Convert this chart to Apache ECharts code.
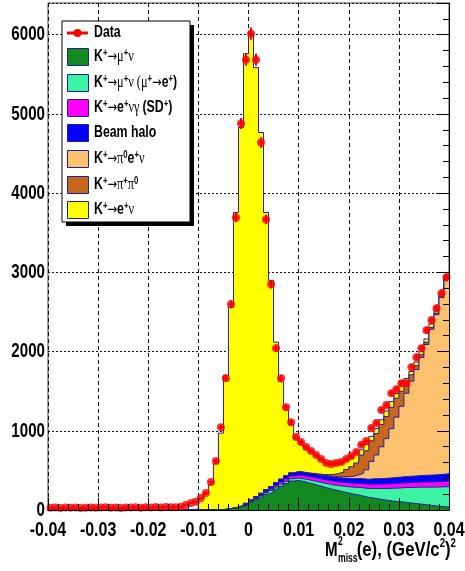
<!DOCTYPE html>
<html>
<head>
<meta charset="utf-8">
<script src="https://cdn.jsdelivr.net/npm/echarts@6/dist/echarts.min.js"></script>
<style>
html,body{margin:0;padding:0;background:#fff;}
#c{width:465px;height:571px;}
</style>
</head>
<body>
<div id="c"></div>
<script>
// M^2_miss(e) histogram: 80 bins of 0.001 (GeV/c^2)^2 from -0.04 to 0.04
const binLow = -0.04;
const binWidth = 0.001;

const xTickLabels = ['-0.04', '-0.03', '-0.02', '-0.01', '0', '0.01', '0.02', '0.03', '0.04'];
const yTickLabels = ['0', '1000', '2000', '3000', '4000', '5000', '6000'];

// observed events per bin
const dataCounts = [
  27, 31, 24, 30, 28, 33, 26, 29, 32, 27,
  30, 35, 28, 31, 26, 33, 30, 36, 29, 34,
  31, 37, 33, 39, 36, 36, 40, 63, 88, 104,
  151, 214, 353, 618, 1046, 1664, 2597, 3693, 4878, 5685,
  6013, 5685, 4639, 3668, 2849, 2042, 1664, 1298, 1109, 920,
  857, 794, 744, 693, 643, 592, 580, 592, 605, 643,
  681, 731, 825, 870, 1034, 1097, 1261, 1324, 1475, 1525,
  1601, 1601, 1803, 1929, 2042, 2269, 2395, 2546, 2735, 2937
];

// simulated contributions per bin (stacked bottom to top in this order)
const kMuNu = [
  0, 0, 0, 0, 0, 0, 0, 0, 0, 0,
  0, 0, 0, 0, 0, 0, 0, 0, 0, 0,
  0, 0, 0, 0, 0, 0, 0, 0, 0, 0,
  0, 0, 1, 2, 5, 10, 20, 30, 45, 65,
  100, 130, 165, 200, 225, 265, 300, 335, 365, 372,
  360, 345, 328, 310, 292, 275, 258, 243, 228, 214,
  200, 190, 175, 160, 150, 140, 130, 120, 112, 105,
  100, 92, 85, 78, 70, 62, 55, 48, 42, 38
];
const kMuNuMuE = [
  0, 0, 0, 0, 0, 0, 0, 0, 0, 0,
  0, 0, 0, 0, 0, 0, 0, 0, 0, 0,
  0, 0, 0, 0, 0, 0, 0, 0, 0, 0,
  0, 0, 0, 0, 0, 0, 3, 5, 7, 10,
  12, 15, 18, 20, 22, 25, 27, 28, 30, 32,
  35, 38, 42, 46, 50, 55, 60, 66, 72, 80,
  88, 96, 104, 112, 122, 132, 142, 152, 162, 172,
  182, 192, 200, 210, 218, 226, 234, 242, 250, 258
];
const kENuGammaSD = [
  0, 0, 0, 0, 0, 0, 0, 0, 0, 0,
  0, 0, 0, 0, 0, 0, 0, 0, 0, 0,
  0, 0, 0, 0, 0, 0, 0, 0, 0, 0,
  0, 0, 0, 0, 0, 0, 0, 0, 2, 4,
  6, 9, 12, 16, 20, 24, 28, 32, 35, 38,
  40, 41, 43, 44, 44, 46, 47, 47, 49, 50,
  50, 52, 53, 53, 55, 56, 56, 58, 59, 60,
  60, 62, 63, 63, 65, 66, 66, 68, 69, 70
];
const beamHalo = [
  0, 0, 0, 0, 0, 0, 0, 0, 0, 0,
  0, 0, 0, 0, 0, 0, 0, 0, 0, 0,
  0, 0, 0, 0, 0, 0, 0, 0, 0, 0,
  0, 0, 0, 0, 0, 0, 0, 0, 3, 5,
  8, 12, 15, 20, 25, 30, 33, 36, 38, 40,
  42, 42, 44, 45, 47, 48, 49, 52, 53, 56,
  57, 60, 62, 63, 66, 67, 70, 71, 74, 75,
  77, 78, 79, 82, 83, 85, 87, 88, 90, 91
];
const kPi0ENu = [
  0, 0, 0, 0, 0, 0, 0, 0, 0, 0,
  0, 0, 0, 0, 0, 0, 0, 0, 0, 0,
  0, 0, 0, 0, 0, 0, 0, 0, 0, 0,
  0, 0, 0, 0, 0, 0, 0, 0, 0, 0,
  0, 0, 0, 0, 0, 0, 0, 0, 0, 0,
  0, 0, 2, 4, 6, 8, 10, 13, 17, 22,
  30, 45, 70, 120, 220, 300, 400, 500, 620, 760,
  890, 1050, 1200, 1340, 1490, 1650, 1840, 2020, 2230, 2460
];
const kPiPi0 = [
  0, 0, 0, 0, 0, 0, 0, 0, 0, 0,
  0, 0, 0, 0, 0, 0, 0, 0, 0, 0,
  0, 0, 0, 0, 0, 0, 0, 0, 0, 0,
  0, 0, 0, 0, 0, 0, 0, 0, 0, 0,
  0, 0, 0, 0, 0, 0, 0, 0, 0, 0,
  0, 0, 3, 6, 10, 15, 25, 40, 60, 90,
  120, 150, 230, 240, 260, 270, 280, 280, 270, 240,
  190, 130, 80, 50, 35, 28, 22, 18, 15, 12
];
const kENu = [
  0, 0, 0, 0, 0, 0, 0, 0, 0, 0,
  0, 0, 0, 0, 0, 0, 0, 0, 0, 0,
  0, 0, 0, 0, 0, 0, 0, 0, 0, 15,
  150, 205, 320, 590, 965, 1690, 2536, 3721, 4771, 5676,
  5884, 5418, 4555, 3500, 2607, 1774, 1232, 839, 612, 418,
  353, 307, 263, 225, 181, 138, 120, 113, 115, 113,
  113, 117, 66, 80, 57, 64, 61, 68, 73, 58,
  61, 56, 42, 46, 38, 43, 46, 36, 34, 30
];

const outlineColor = '#20209a';
const dataColor = '#ff0000';
const layers = [
  { label: '{n|K}{s|+}{a|→}{g|μ}{s|+}{g|ν}', values: kMuNu, color: '#12881e' },
  { label: '{n|K}{s|+}{a|→}{g|μ}{s|+}{g|ν (μ}{s|+}{a|→}{n|e}{s|+}{n|)}', values: kMuNuMuE, color: '#3cf3a4' },
  { label: '{n|K}{s|+}{a|→}{n|e}{s|+}{g|νγ }{n|(SD}{s|+}{n|)}', values: kENuGammaSD, color: '#ff00ff' },
  { label: '{n|Beam halo}', values: beamHalo, color: '#0000ff' },
  { label: '{n|K}{s|+}{a|→}{g|π}{s|0}{n|e}{s|+}{g|ν}', values: kPi0ENu, color: '#fcc16f' },
  { label: '{n|K}{s|+}{a|→}{g|π}{s|+}{g|π}{s|0}', values: kPiPi0, color: '#c8661b' },
  { label: '{n|K}{s|+}{a|→}{n|e}{s|+}{g|ν}', values: kENu, color: '#ffff00' }
];

const nBins = dataCounts.length;
const edges = [];
for (let i = 0; i <= nBins; i++) edges.push(+(binLow + i * binWidth).toFixed(4));
const centers = dataCounts.map((_, i) => +(binLow + (i + 0.5) * binWidth).toFixed(5));

// running sums: each stacked histogram is drawn as the cumulative total up to that layer
let running = dataCounts.map(() => 0);
const cumulative = layers.map(l => {
  running = running.map((v, i) => v + l.values[i]);
  return running.slice();
});

function stepPoints(vals) {
  const pts = vals.map((v, i) => [edges[i], v]);
  pts.push([edges[nBins], vals[nBins - 1]]);
  return pts;
}

const histSeries = [];
for (let k = layers.length - 1; k >= 0; k--) {
  histSeries.push({
    type: 'line',
    xAxisIndex: 0, yAxisIndex: 0,
    data: stepPoints(cumulative[k]),
    step: 'end',
    symbol: 'none', showSymbol: false,
    lineStyle: { color: outlineColor, width: 1 },
    areaStyle: { color: layers[k].color, opacity: 1 },
    silent: true,
    z: 2 + (layers.length - 1 - k)
  });
}

const FONT = '"Liberation Sans", Arial, sans-serif';
const GREEK = '"Liberation Serif", "DejaVu Serif", serif';
const ARROW = '"DejaVu Sans", sans-serif';

const option = {
  animation: false,
  backgroundColor: '#ffffff',
  grid: { left: 48, right: 16, top: 3, bottom: 61, show: true, borderColor: '#444', borderWidth: 1,
          backgroundColor: 'transparent', outerBoundsMode: 'none', containLabel: false },
  xAxis: [
    { type: 'value', min: -0.04, max: 0.04, interval: 0.01, position: 'bottom',
      axisLine: { show: false, onZero: false }, axisTick: { show: false }, axisLabel: { show: false },
      splitLine: { show: true, lineStyle: { color: '#111', width: 1, type: [4, 3] } } },
    { type: 'value', min: -0.04, max: 0.04, interval: 0.01, position: 'bottom', z: 20,
      axisLine: { show: true, onZero: false, lineStyle: { color: '#000', width: 1 } },
      axisTick: { show: true, inside: true, length: 12, lineStyle: { color: '#000', width: 1 } },
      minorTick: { show: true, splitNumber: 5, length: 6, lineStyle: { color: '#000', width: 1 } },
      axisLabel: { show: false }, splitLine: { show: false } }
  ],
  yAxis: [
    { type: 'value', min: 0, max: 6400, interval: 1000,
      axisLine: { show: false, onZero: false }, axisTick: { show: false }, axisLabel: { show: false },
      splitLine: { show: true, lineStyle: { color: '#111', width: 1, type: [2, 2] } } },
    { type: 'value', min: 0, max: 6400, interval: 1000, z: 20,
      axisLine: { show: true, onZero: false, lineStyle: { color: '#000', width: 1 } },
      axisTick: { show: true, inside: true, length: 12, lineStyle: { color: '#000', width: 1 } },
      minorTick: { show: true, splitNumber: 5, length: 6, lineStyle: { color: '#000', width: 1 } },
      axisLabel: { show: false }, splitLine: { show: false } }
  ],
  series: histSeries.concat([
    {
      type: 'custom', xAxisIndex: 0, yAxisIndex: 0, silent: true, z: 12,
      data: centers.map((c, i) => [c, dataCounts[i]]),
      renderItem: function (params, api) {
        const x = api.value(0), y = api.value(1), e = Math.sqrt(y);
        const a = api.coord([x - binWidth / 2, y]);
        const b = api.coord([x + binWidth / 2, y]);
        const t = api.coord([x, y + e]);
        const d = api.coord([x, Math.max(0, y - e)]);
        return { type: 'group', children: [
          { type: 'line', shape: { x1: a[0], y1: a[1], x2: b[0], y2: b[1] }, style: { stroke: dataColor, lineWidth: 2 } },
          { type: 'line', shape: { x1: t[0], y1: t[1], x2: d[0], y2: d[1] }, style: { stroke: dataColor, lineWidth: 2 } }
        ] };
      }
    },
    {
      type: 'scatter', xAxisIndex: 0, yAxisIndex: 0, silent: true, z: 13,
      data: centers.map((c, i) => [c, dataCounts[i]]),
      symbol: 'circle', symbolSize: 8,
      itemStyle: { color: dataColor }
    }
  ])
};

const chart = echarts.init(document.getElementById('c'), null, { renderer: 'canvas', width: 465, height: 571 });
chart.setOption(option);

// tick labels, legend and axis title
const gfx = [];
const bottomY = chart.convertToPixel({ yAxisIndex: 0 }, 0);
const leftX = chart.convertToPixel({ xAxisIndex: 0 }, -0.04);

yTickLabels.forEach(t => {
  const py = chart.convertToPixel({ yAxisIndex: 0 }, parseFloat(t));
  gfx.push({ type: 'text', x: leftX - 3, y: py, scaleX: 0.72, z: 30,
    style: { text: t, font: 'bold 21px ' + FONT, fill: '#000', align: 'right', textAlign: 'right',
             verticalAlign: 'middle', textVerticalAlign: 'middle' } });
});
xTickLabels.forEach(t => {
  const px = chart.convertToPixel({ xAxisIndex: 0 }, parseFloat(t));
  gfx.push({ type: 'text', x: px, y: bottomY + 20, scaleX: 0.8, z: 30,
    style: { text: t, font: 'bold 20px ' + FONT, fill: '#000', align: 'center', textAlign: 'center',
             verticalAlign: 'middle', textVerticalAlign: 'middle' } });
});

// axis title M^2_miss(e), (GeV/c^2)^2
gfx.push({ type: 'group', x: 325, y: 550, scaleX: 0.72, z: 30, children: [
  { type: 'text', x: 0, y: 0, style: { text: 'M', font: 'bold 21px ' + FONT, fill: '#000', verticalAlign: 'middle', textVerticalAlign: 'middle' } },
  { type: 'text', x: 18, y: -8, style: { text: '2', font: 'bold 12px ' + FONT, fill: '#000', verticalAlign: 'middle', textVerticalAlign: 'middle' } },
  { type: 'text', x: 18, y: 9, style: { text: 'miss', font: 'bold 12px ' + FONT, fill: '#000', verticalAlign: 'middle', textVerticalAlign: 'middle' } },
  { type: 'text', x: 44, y: 0, scaleX: 1.11, style: { text: '(e), (GeV/c{s|2}){s|2}', font: 'bold 21px ' + FONT, fill: '#000',
      verticalAlign: 'middle', textVerticalAlign: 'middle',
      rich: { s: { font: 'bold 12px ' + FONT, fill: '#000', verticalAlign: 'top', lineHeight: 24 } } } }
] });

// legend box with shadow
const legendRich = {
  n: { font: 'bold 16px ' + FONT, fill: '#000', lineHeight: 18 },
  g: { font: '16px ' + GREEK, fill: '#000', lineHeight: 18 },
  a: { font: '15px ' + ARROW, fill: '#000', lineHeight: 18 },
  s: { font: 'bold 10px ' + FONT, fill: '#000', lineHeight: 18, verticalAlign: 'top' }
};
gfx.push({ type: 'rect', shape: { x: 66, y: 25, width: 128, height: 201 }, style: { fill: '#000' }, z: 25 });
gfx.push({ type: 'rect', shape: { x: 62, y: 21, width: 128, height: 201 }, style: { fill: '#fff', stroke: '#000', lineWidth: 1 }, z: 26 });
const rowY = [33, 57, 83, 108, 133, 159, 185, 210];
gfx.push({ type: 'line', shape: { x1: 67, y1: rowY[0], x2: 88, y2: rowY[0] }, style: { stroke: dataColor, lineWidth: 3 }, z: 27 });
gfx.push({ type: 'circle', shape: { cx: 77.5, cy: rowY[0], r: 4 }, style: { fill: dataColor }, z: 27 });
gfx.push({ type: 'text', x: 94, y: rowY[0], scaleX: 0.77, z: 27,
  style: { text: '{n|Data}', rich: legendRich, align: 'left', textAlign: 'left', verticalAlign: 'middle', textVerticalAlign: 'middle' } });
layers.forEach((l, k) => {
  const y = rowY[k + 1];
  gfx.push({ type: 'rect', shape: { x: 67.5, y: y - 8.5, width: 21, height: 17 },
    style: { fill: l.color, stroke: outlineColor, lineWidth: 1 }, z: 27 });
  gfx.push({ type: 'text', x: 94, y: y, scaleX: 0.77, z: 27,
    style: { text: l.label, rich: legendRich, align: 'left', textAlign: 'left', verticalAlign: 'middle', textVerticalAlign: 'middle' } });
});

chart.setOption({ graphic: { elements: gfx } });
</script>
</body>
</html>
